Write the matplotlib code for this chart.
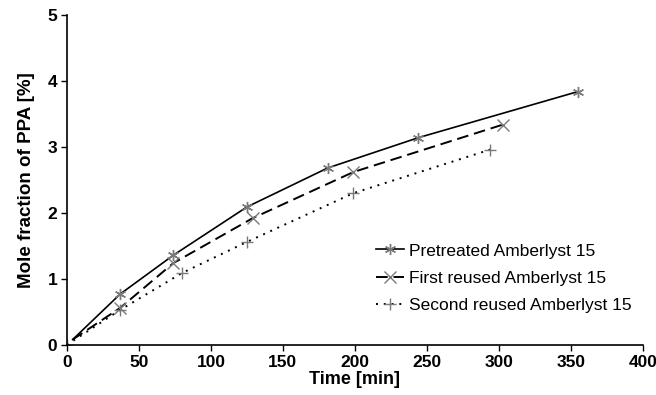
import matplotlib

matplotlib.use("Agg")
import matplotlib.pyplot as plt

plt.rcParams["font.family"] = ["Liberation Sans", "DejaVu Sans"]

# Values
time_pre = [4, 37, 74, 125, 181, 244, 355]
ppa_pre = [0.08, 0.77, 1.36, 2.09, 2.68, 3.14, 3.84]

time_first = [4, 37, 74, 129, 199, 303]
ppa_first = [0.08, 0.56, 1.24, 1.92, 2.62, 3.34]

time_second = [0, 37, 80, 125, 199, 294]
ppa_second = [0.0, 0.53, 1.09, 1.56, 2.30, 2.96]

labels = ["Pretreated Amberlyst 15", "First reused Amberlyst 15",
          "Second reused Amberlyst 15"]

fig = plt.figure(figsize=(6.56, 3.95), dpi=100)
ax = fig.add_axes([0.102, 0.127, 0.878, 0.835])

mk_col = "#7a7a7a"
ax.plot(time_pre, ppa_pre, color="black", lw=1.2, ls="-",
        marker=(6, 2, 0), ms=8, mec=mk_col, mew=1.0, markevery=range(1, 7),
        label=labels[0])
ax.plot(time_first, ppa_first, color="black", lw=1.4, ls=(0, (6, 3)),
        marker="x", ms=8, mec=mk_col, mew=1.0, markevery=range(1, 6),
        label=labels[1])
ax.plot(time_second, ppa_second, color="black", lw=1.4, ls=(0, (1, 3)),
        marker="+", ms=8, mec=mk_col, mew=1.0, label=labels[2])

ax.set_xlim(0, 400)
ax.set_ylim(0, 5)
ax.set_xticks(range(0, 401, 50))
ax.set_yticks(range(0, 6))
for s in ("top", "right"):
    ax.spines[s].set_visible(False)
for s in ("left", "bottom"):
    ax.spines[s].set_linewidth(1.2)
ax.tick_params(direction="out", length=4, width=1.0, labelsize=12.5, pad=3)
for t in ax.get_xticklabels() + ax.get_yticklabels():
    t.set_fontweight("bold")

ax.set_xlabel("Time [min]", fontsize=13, fontweight="bold", labelpad=1)
ax.set_ylabel("Mole fraction of PPA [%]", fontsize=13.5, fontweight="bold",
              labelpad=9)

ax.legend(loc="lower right", bbox_to_anchor=(0.993, 0.075), frameon=False,
          fontsize=12.5, handlelength=1.6, handletextpad=0.3,
          labelspacing=0.7, borderaxespad=0)

fig.savefig("out.png", dpi=100)
